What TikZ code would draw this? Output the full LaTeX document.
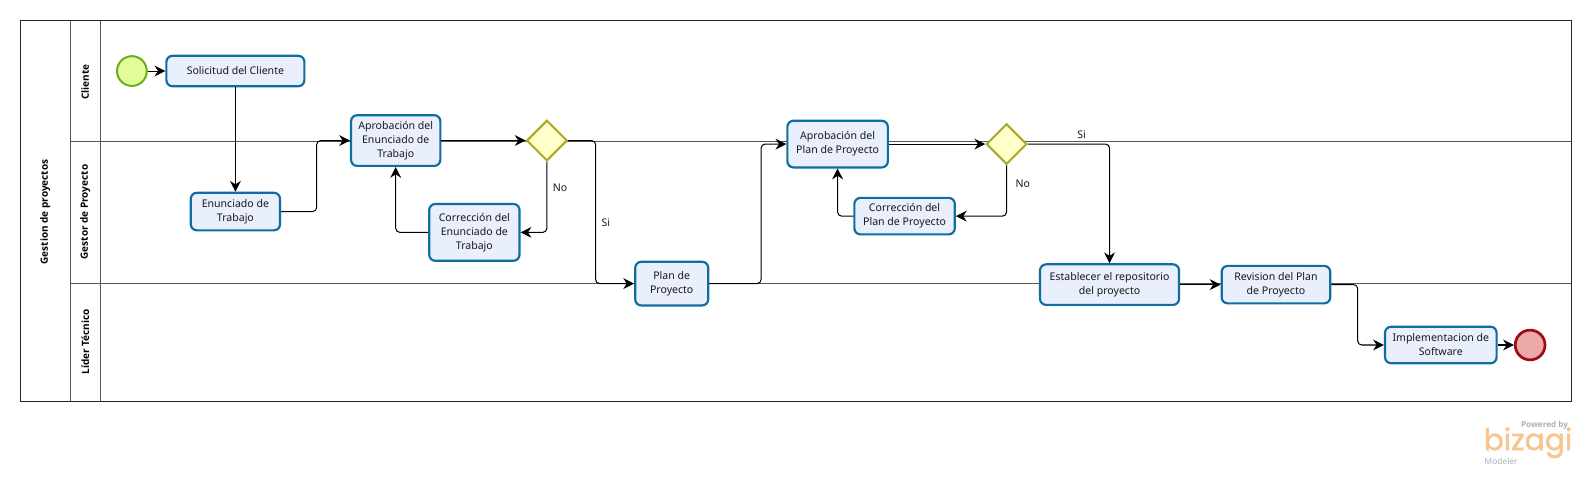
\documentclass[tikz,border=0pt]{standalone}
\usepackage{fontspec}
\setmainfont{Noto Sans}
\newfontfamily\logofont[FakeBold=1.6]{Poppins}
\newfontfamily\headfont{Open Sans}
\usetikzlibrary{arrows.meta,shapes.geometric}
\definecolor{taskline}{HTML}{0F6E9F}
\definecolor{taskfill}{HTML}{EAEFFD}
\definecolor{laneline}{HTML}{555555}
\definecolor{gateline}{HTML}{ADA823}
\definecolor{gatefill}{HTML}{FFFFCC}
\definecolor{startline}{HTML}{6FAE1E}
\definecolor{startfill}{HTML}{E2FC9C}
\definecolor{endline}{HTML}{A00A14}
\definecolor{endfill}{HTML}{EDA8A8}
\definecolor{logoorange}{HTML}{F9C48F}
\definecolor{logogray}{HTML}{A9B1B5}
\tikzset{
  x=0.75pt,y=-0.75pt,
  lane/.style={draw=laneline,line width=0.75pt},
  pool/.style={draw=black!85,line width=0.8pt},
  head/.style={font=\headfont\fontsize{7.4pt}{9pt}\selectfont\bfseries,rotate=90,inner sep=0pt},
  task/.style={draw=taskline,fill=taskfill,line width=1.6pt,rounded corners=4.5pt,align=center,
    inner sep=0pt,font=\fontsize{7.8pt}{10.4pt}\selectfont,text=black!90},
  gate/.style={diamond,draw=gateline,fill=gatefill,line width=1.5pt,minimum width=30pt,minimum height=30pt,inner sep=0pt},
  startev/.style={circle,draw=startline,fill=startfill,line width=1.5pt,minimum size=22pt,inner sep=0pt},
  endev/.style={circle,draw=endline,fill=endfill,line width=2pt,minimum size=22pt,inner sep=0pt},
  flow/.style={draw=black,line width=0.75pt,rounded corners=3pt,-{Stealth[length=8pt,width=8pt,inset=2.6pt]}},
  flowlabel/.style={font=\fontsize{7.8pt}{9pt}\selectfont,inner sep=0pt,text=black!90},
}
\begin{document}
\begin{tikzpicture}
\useasboundingbox (0,0) rectangle (1568,487);
\fill[white] (0,0) rectangle (1568,487);
% pool and lanes
\draw[lane] (69.5,139.5) -- (1549,139.5);
\draw[lane] (69.5,279.5) -- (1549,279.5);
\draw[lane] (69.5,20.5) -- (69.5,395.5);
\draw[lane] (99,20.5) -- (99,395.5);
\draw[pool] (20.5,20.5) rectangle (1549,395.5);
\node[head] (pooltitle) at (44.5,209) {Gestion de proyectos};
\node[head] (laneA) at (84,81) {Cliente};
\node[head] (laneB) at (84,209) {Gestor de Proyecto};
\node[head] (laneC) at (84,337) {Líder Técnico};
% tasks
\node[startev] (start) at (130,70) {};
\node[task,minimum width=102pt,minimum height=22.5pt] (sol) at (232,70) {Solicitud del Cliente};
\node[task,minimum width=66pt,minimum height=27.75pt] (enun) at (232,208.5) {Enunciado de\\Trabajo};
\node[task,minimum width=66pt,minimum height=37.5pt] (apr) at (390,138.5) {Aprobación del\\Enunciado de\\Trabajo};
\node[gate] (gwa) at (539,138.5) {};
\node[task,minimum width=66.75pt,minimum height=42pt] (cora) at (467.5,229) {Corrección del\\Enunciado de\\Trabajo};
\node[task,minimum width=54pt,minimum height=32.25pt] (plan) at (662,279.5) {Plan de\\Proyecto};
\node[task,minimum width=74.25pt,minimum height=34.5pt] (aprb) at (825.5,142) {Aprobación del\\Plan de Proyecto};
\node[gate] (gwb) at (992,142) {};
\node[task,minimum width=74.25pt,minimum height=27pt] (corb) at (891.5,213) {Corrección del\\Plan de Proyecto};
\node[task,minimum width=102.75pt,minimum height=30pt] (est) at (1093.5,280.5) {Establecer el repositorio\\del proyecto};
\node[task,minimum width=80.25pt,minimum height=27.75pt] (rev) at (1257.5,280.5) {Revision del Plan\\de Proyecto};
\node[task,minimum width=82.5pt,minimum height=27pt] (impl) at (1420,340) {Implementacion de\\Software};
\node[endev] (fin) at (1508,340) {};
% flows
\draw[flow] (start) -- (sol);
\draw[flow] (sol) -- (enun);
\draw[flow] (enun.east) -- ++(35,0) |- (apr.west);
\draw[flow] (apr) -- (gwa);
\draw[flow] (gwa.south) |- (cora.east);
\draw[flow] (cora.west) -| (apr.south);
\draw[flow] (gwa.east) -- ++(27,0) |- (plan.west);
\draw[flow] (plan.east) -- ++(51,0) |- (aprb.west);
\draw[flow] (aprb) -- (gwb);
\draw[flow] (gwb.south) |- (corb.east);
\draw[flow] (corb.west) -| (aprb.south);
\draw[flow] (gwb.east) -| (est.north);
\draw[flow] (est) -- (rev);
\draw[flow] (rev.east) -- ++(26,0) |- (impl.west);
\draw[flow] (impl) -- (fin);
% flow labels
\node[flowlabel] (noa) at (552,185) {No};
\node[flowlabel] (sia) at (597,219) {Si};
\node[flowlabel] (nob) at (1008,181) {No};
\node[flowlabel] (sib) at (1066,133) {Si};
% logo
\node[inner sep=0pt,anchor=east,text=logogray,font=\headfont\fontsize{6pt}{6pt}\selectfont\bfseries] (powered) at (1545.5,419) {Powered by};
\node[inner sep=0pt,anchor=base west,text=logoorange,font=\logofont\fontsize{22pt}{22pt}\selectfont] (bizagi) at (1462,443.6) {bizagi};
\node[inner sep=0pt,anchor=west,text=logogray,font=\fontsize{6.2pt}{6pt}\selectfont] (modeler) at (1463,455) {Modeler};
\end{tikzpicture}
\end{document}
